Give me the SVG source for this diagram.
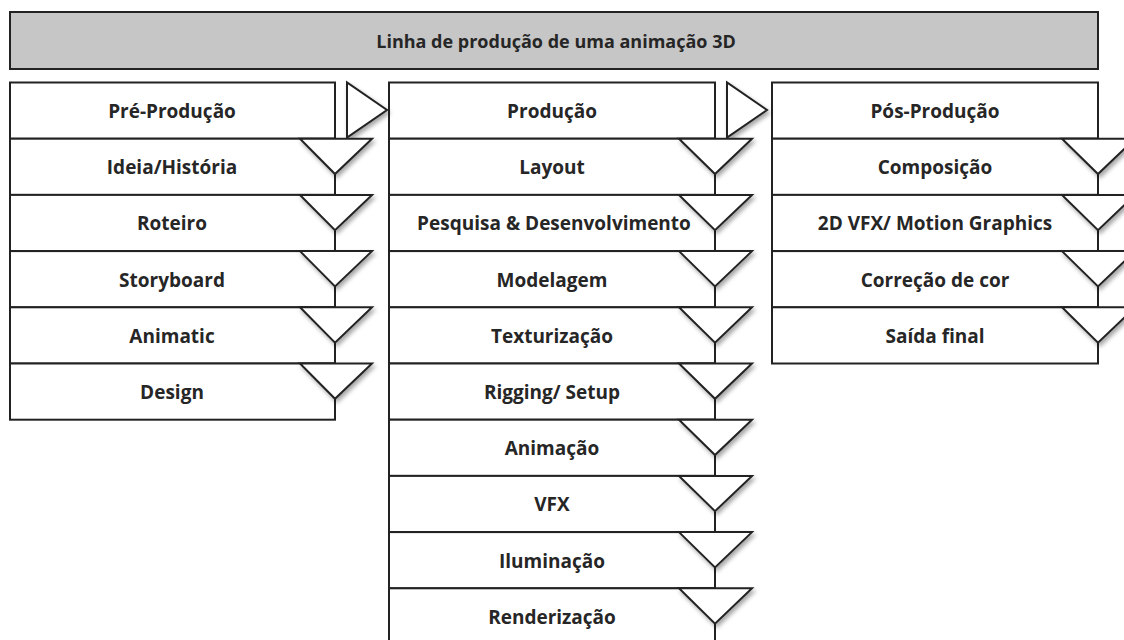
<svg xmlns="http://www.w3.org/2000/svg" width="1124" height="640" viewBox="0 0 1124 640">
<style>
  .box{fill:#fff;stroke:#222;stroke-width:2}
  .title{fill:#c6c6c6;stroke:#222;stroke-width:2}
  .tri{fill:#fff;stroke:#222;stroke-width:2;stroke-linejoin:miter;filter:url(#sh)}
  text{font-family:"Open Sans","Liberation Sans",sans-serif;font-weight:700;font-size:19px;fill:#262626;text-anchor:middle}
  .tt{font-size:18px}
</style>
<defs>
  <filter id="sh" x="-20%" y="-20%" width="150%" height="160%">
    <feDropShadow dx="2" dy="3" stdDeviation="2" flood-color="#000" flood-opacity="0.35"/>
  </filter>
</defs>
<rect width="1124" height="640" fill="#fff"/>
<g id="title"><rect class="title" x="10" y="12" width="1088" height="57"/><text class="tt" x="556" y="47.5">Linha de produção de uma animação 3D</text></g>

<g id="col1">
  <g id="pre"><rect class="box" x="10" y="82.5" width="325" height="56.2"/><text x="172" y="118">Pré-Produção</text></g>
  <g id="ideia"><rect class="box" x="10" y="138.7" width="325" height="56.2"/><text x="172" y="174.2">Ideia/História</text></g>
  <g id="roteiro"><rect class="box" x="10" y="194.9" width="325" height="56.2"/><text x="172" y="230.4">Roteiro</text></g>
  <g id="storyboard"><rect class="box" x="10" y="251.1" width="325" height="56.2"/><text x="172" y="286.6">Storyboard</text></g>
  <g id="animatic"><rect class="box" x="10" y="307.3" width="325" height="56.2"/><text x="172" y="342.8">Animatic</text></g>
  <g id="design"><rect class="box" x="10" y="363.5" width="325" height="56.2"/><text x="172" y="399">Design</text></g>
</g>

<g id="col2">
  <g id="producao"><rect class="box" x="389" y="82.5" width="326" height="56.2"/><text x="552" y="118">Produção</text></g>
  <g id="layout"><rect class="box" x="389" y="138.7" width="326" height="56.2"/><text x="552" y="174.2">Layout</text></g>
  <g id="pesquisa"><rect class="box" x="389" y="194.9" width="326" height="56.2"/><text x="554" y="230.4">Pesquisa &amp; Desenvolvimento</text></g>
  <g id="modelagem"><rect class="box" x="389" y="251.1" width="326" height="56.2"/><text x="552" y="286.6">Modelagem</text></g>
  <g id="texturizacao"><rect class="box" x="389" y="307.3" width="326" height="56.2"/><text x="552" y="342.8">Texturização</text></g>
  <g id="rigging"><rect class="box" x="389" y="363.5" width="326" height="56.2"/><text x="552" y="399">Rigging/ Setup</text></g>
  <g id="animacao"><rect class="box" x="389" y="419.7" width="326" height="56.2"/><text x="552" y="455.2">Animação</text></g>
  <g id="vfx"><rect class="box" x="389" y="475.9" width="326" height="56.2"/><text x="552" y="511.4">VFX</text></g>
  <g id="iluminacao"><rect class="box" x="389" y="532.1" width="326" height="56.2"/><text x="552" y="567.6">Iluminação</text></g>
  <g id="renderizacao"><rect class="box" x="389" y="588.3" width="326" height="56.2"/><text x="552" y="623.8">Renderização</text></g>
</g>

<g id="col3">
  <g id="pos"><rect class="box" x="772" y="82.5" width="326" height="56.2"/><text x="935" y="118">Pós-Produção</text></g>
  <g id="composicao"><rect class="box" x="772" y="138.7" width="326" height="56.2"/><text x="935" y="174.2">Composição</text></g>
  <g id="vfx2d"><rect class="box" x="772" y="194.9" width="326" height="56.2"/><text x="935" y="230.4">2D VFX/ Motion Graphics</text></g>
  <g id="correcao"><rect class="box" x="772" y="251.1" width="326" height="56.2"/><text x="935" y="286.6">Correção de cor</text></g>
  <g id="saida"><rect class="box" x="772" y="307.3" width="326" height="56.2"/><text x="935" y="342.8">Saída final</text></g>
</g>

<g id="connectors">
  <polygon class="tri" points="347,82.5 347,137.5 387,110"/>
  <polygon class="tri" points="727,82.5 727,137.5 767,110"/>

  <polygon class="tri" points="300,138.7 372,138.7 335,174"/>
  <polygon class="tri" points="300,194.9 372,194.9 335,230.2"/>
  <polygon class="tri" points="300,251.1 372,251.1 335,286.4"/>
  <polygon class="tri" points="300,307.3 372,307.3 335,342.6"/>
  <polygon class="tri" points="300,363.5 372,363.5 335,398.8"/>

  <polygon class="tri" points="679,138.7 752,138.7 715,174"/>
  <polygon class="tri" points="679,194.9 752,194.9 715,230.2"/>
  <polygon class="tri" points="679,251.1 752,251.1 715,286.4"/>
  <polygon class="tri" points="679,307.3 752,307.3 715,342.6"/>
  <polygon class="tri" points="679,363.5 752,363.5 715,398.8"/>
  <polygon class="tri" points="679,419.7 752,419.7 715,455"/>
  <polygon class="tri" points="679,475.9 752,475.9 715,511.2"/>
  <polygon class="tri" points="679,532.1 752,532.1 715,567.4"/>
  <polygon class="tri" points="679,588.3 752,588.3 715,623.6"/>

  <polygon class="tri" points="1062,138.7 1135,138.7 1098,174"/>
  <polygon class="tri" points="1062,194.9 1135,194.9 1098,230.2"/>
  <polygon class="tri" points="1062,251.1 1135,251.1 1098,286.4"/>
  <polygon class="tri" points="1062,307.3 1135,307.3 1098,342.6"/>
</g>
</svg>
